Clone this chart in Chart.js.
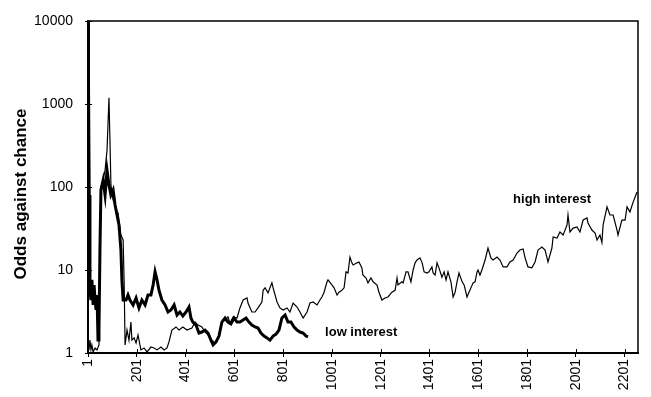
<!DOCTYPE html>
<html>
<head>
<meta charset="utf-8">
<script src="https://cdn.jsdelivr.net/npm/chart.js@4/dist/chart.umd.min.js"></script>
<style>
    body { margin: 0; background: #fff; }
</style>
</head>
<body>
<canvas id="myChart" width="651" height="397"></canvas>
<script>
// trial number, odds against chance
const highPoints = [[1,1.25],[5,1.09],[9,1.43],[13,1.09],[17,1.25],[22,1.03],[30,1.15],[38,1.09],[46,1.25],[50,17.4],[54,100],[63,121],[71,160],[79,278],[87,1190],[91,366],[95,106],[104,69.6],[112,60.8],[120,50],[124,49],[136,26.4],[145,23],[149,7.6],[153,1.25],[161,1.89],[169,1.43],[177,2.36],[181,1.43],[190,1.52],[198,1.32],[206,1.65],[218,1.09],[231,1.15],[243,1.03],[259,1.18],[272,1.15],[284,1.09],[300,1.18],[313,1.09],[325,1.15],[333,1.36],[345,1.89],[362,2.06],[374,1.89],[390,2.06],[407,1.89],[427,2.0],[440,2.36],[452,2.17],[468,2.06],[481,1.79],[493,1.65],[509,1.43],[522,1.32],[534,1.52],[542,1.89],[550,2.36],[563,2.5],[575,2.72],[583,2.3],[596,2.72],[612,2.64],[624,3.49],[637,4.35],[653,4.6],[657,4.0],[673,3.12],[686,3.12],[698,3.49],[714,4.12],[719,5.7],[727,6.1],[739,5.3],[755,7.0],[760,6.1],[776,4.12],[788,3.49],[801,3.3],[817,3.49],[829,3.12],[842,4.0],[858,3.58],[870,3.12],[883,2.64],[899,3.12],[911,4.0],[924,4.12],[940,3.79],[952,4.35],[960,4.73],[969,5.4],[981,7.2],[985,7.6],[1001,6.6],[1010,6.1],[1022,5.0],[1030,5.4],[1042,5.7],[1051,6.1],[1059,9.5],[1067,9.2],[1075,14.3],[1083,12.2],[1088,11.5],[1104,12.2],[1112,12.5],[1124,10.6],[1128,8.7],[1141,8.0],[1149,7.0],[1161,8.0],[1170,7.2],[1186,6.6],[1194,5.4],[1206,4.35],[1219,4.6],[1231,4.73],[1247,5.4],[1260,5.7],[1268,8.0],[1272,6.6],[1288,7.2],[1293,7.0],[1305,9.5],[1313,9.5],[1325,7.2],[1334,10.0],[1342,12.2],[1350,13.2],[1362,14.0],[1371,12.2],[1379,9.5],[1391,9.2],[1399,9.5],[1411,10.9],[1416,9.2],[1424,8.7],[1432,12.2],[1440,10.6],[1452,8.2],[1461,9.5],[1469,7.6],[1477,9.5],[1489,7.2],[1498,4.73],[1506,5.4],[1514,7.2],[1522,9.2],[1535,7.2],[1543,6.6],[1555,4.73],[1563,5.4],[1580,7.0],[1588,7.2],[1596,9.5],[1600,10.0],[1608,8.7],[1616,10.0],[1629,13.2],[1641,18.4],[1653,14.0],[1662,13.2],[1678,14.3],[1690,13.2],[1703,10.9],[1719,10.9],[1731,12.5],[1744,13.2],[1760,16.0],[1772,17.4],[1785,17.9],[1793,14.0],[1805,10.9],[1821,10.6],[1834,12.5],[1846,17.4],[1862,18.9],[1875,17.4],[1887,12.5],[1903,18.4],[1908,25.0],[1924,24.3],[1936,28.7],[1949,26.4],[1965,34.9],[1969,46],[1977,28.7],[1990,32.0],[2006,33.0],[2018,28.7],[2031,40.0],[2047,42.3],[2051,36.9],[2067,30.3],[2080,27.9],[2088,23.0],[2100,26.4],[2108,21.4],[2113,34.9],[2129,57.6],[2141,46],[2154,46],[2170,30.3],[2174,26.4],[2190,40.0],[2203,40.0],[2211,57.6],[2223,50],[2236,65.7],[2252,87]];

const lowPoints = [[1,10000],[3,1800],[6,80],[9,5.7],[13,4.35],[17,7.6],[22,3.79],[26,6.6],[30,4.35],[34,3.3],[38,5.0],[42,1.43],[46,1.89],[50,17.4],[54,92],[63,121],[71,80],[79,160],[87,106],[95,80],[104,92],[112,60.8],[120,46],[128,35],[136,17.4],[140,7.6],[145,4.35],[157,4.35],[165,5.0],[173,4.35],[186,3.79],[198,4.6],[210,3.49],[222,4.35],[235,3.79],[247,5.0],[259,5.0],[268,6.6],[276,9.5],[284,7.6],[292,5.7],[304,4.35],[317,3.79],[329,3.12],[341,3.3],[354,3.79],[366,2.87],[378,3.12],[390,2.79],[403,3.12],[415,3.58],[423,2.64],[431,2.36],[444,2.17],[456,1.74],[468,1.79],[481,1.89],[493,1.74],[505,1.43],[514,1.25],[526,1.36],[538,1.6],[550,2.36],[563,2.64],[575,2.36],[587,2.24],[600,2.64],[612,2.36],[624,2.36],[637,2.5],[649,2.64],[661,2.36],[673,2.17],[686,2.06],[698,2.0],[710,1.74],[723,1.6],[735,1.52],[747,1.43],[760,1.6],[772,1.69],[784,1.89],[796,2.64],[809,2.87],[821,2.36],[833,2.36],[846,2.06],[858,1.89],[870,1.79],[883,1.74],[895,1.6],[903,1.56]];

const xTicks = [1, 201, 401, 601, 801, 1001, 1201, 1401, 1601, 1801, 2001, 2201];
const yTicks = [1, 10, 100, 1000, 10000];

const seriesNames = ['high interest', 'low interest'];
const yTitle = 'Odds against chance';

const FONT = "'Liberation Sans', Arial, sans-serif";

function toXY(list) {
    return list.map(p => ({x: p[0], y: p[1]}));
}

// frame, inner tick marks, axis title and the two line labels
const extras = {
    id: 'extras',
    afterDraw(chart) {
        const ctx = chart.ctx;
        const a = chart.chartArea;
        const xs = chart.scales.x;
        const ys = chart.scales.y;
        ctx.save();
        ctx.strokeStyle = '#000';
        ctx.lineWidth = 1.5;
        ctx.beginPath();
        ctx.moveTo(a.left, a.top);
        ctx.lineTo(a.right, a.top);
        ctx.lineTo(a.right, a.bottom);
        ctx.stroke();

        ctx.lineWidth = 1;
        ctx.beginPath();
        yTicks.forEach(v => {
            const py = Math.round(ys.getPixelForValue(v)) + 0.5;
            ctx.moveTo(a.left, py);
            ctx.lineTo(a.left + 4, py);
        });
        xTicks.forEach(v => {
            const px = Math.round(xs.getPixelForValue(v)) + 0.5;
            ctx.moveTo(px, a.bottom);
            ctx.lineTo(px, a.bottom - 4);
        });
        ctx.stroke();

        ctx.fillStyle = '#000';
        ctx.font = 'bold 17px ' + FONT;
        ctx.textAlign = 'center';
        ctx.textBaseline = 'middle';
        ctx.translate(21, 194);
        ctx.rotate(-Math.PI / 2);
        ctx.fillText(yTitle, 0, 0);
        ctx.restore();

        ctx.save();
        ctx.fillStyle = '#000';
        ctx.font = 'bold 13px ' + FONT;
        ctx.textAlign = 'left';
        ctx.textBaseline = 'alphabetic';
        ctx.fillText(seriesNames[0], xs.getPixelForValue(1744), ys.getPixelForValue(64));
        ctx.fillText(seriesNames[1], xs.getPixelForValue(973), ys.getPixelForValue(1.6));
        ctx.restore();
    }
};

var ctx = document.getElementById('myChart').getContext('2d');

var config = {
    type: 'line',
    data: {
        datasets: [
            {
                label: seriesNames[0],
                data: toXY(highPoints),
                borderColor: '#000',
                borderWidth: 1.2,
                pointRadius: 0,
                tension: 0,
                fill: false
            },
            {
                label: seriesNames[1],
                data: toXY(lowPoints),
                borderColor: '#000',
                borderWidth: 3,
                pointRadius: 0,
                tension: 0,
                fill: false
            }
        ]
    },
    options: {
        responsive: false,
        animation: false,
        devicePixelRatio: 1,
        layout: {padding: {top: 21, right: 13, left: 0, bottom: 0}},
        plugins: {
            legend: {display: false},
            tooltip: {enabled: false}
        },
        scales: {
            x: {
                type: 'linear',
                min: 1,
                max: 2256,
                afterBuildTicks: s => { s.ticks = xTicks.map(v => ({value: v})); },
                afterFit: s => { s.height = 44; },
                grid: {drawOnChartArea: false, color: '#000', tickLength: 4},
                border: {color: '#000', width: 2},
                ticks: {
                    autoSkip: false,
                    minRotation: 90,
                    maxRotation: 90,
                    padding: 2,
                    color: '#000',
                    font: {family: FONT, size: 14},
                    callback: v => String(v)
                }
            },
            y: {
                type: 'logarithmic',
                min: 1,
                max: 10000,
                afterBuildTicks: s => { s.ticks = yTicks.map(v => ({value: v})); },
                afterFit: s => { s.width = 88; },
                grid: {drawOnChartArea: false, color: '#000', tickLength: 3},
                border: {color: '#000', width: 2},
                ticks: {
                    padding: 12,
                    color: '#000',
                    font: {family: FONT, size: 14},
                    callback: v => String(v)
                }
            }
        }
    },
    plugins: [extras]
};

var myChart = new Chart(ctx, config);
</script>
</body>
</html>
